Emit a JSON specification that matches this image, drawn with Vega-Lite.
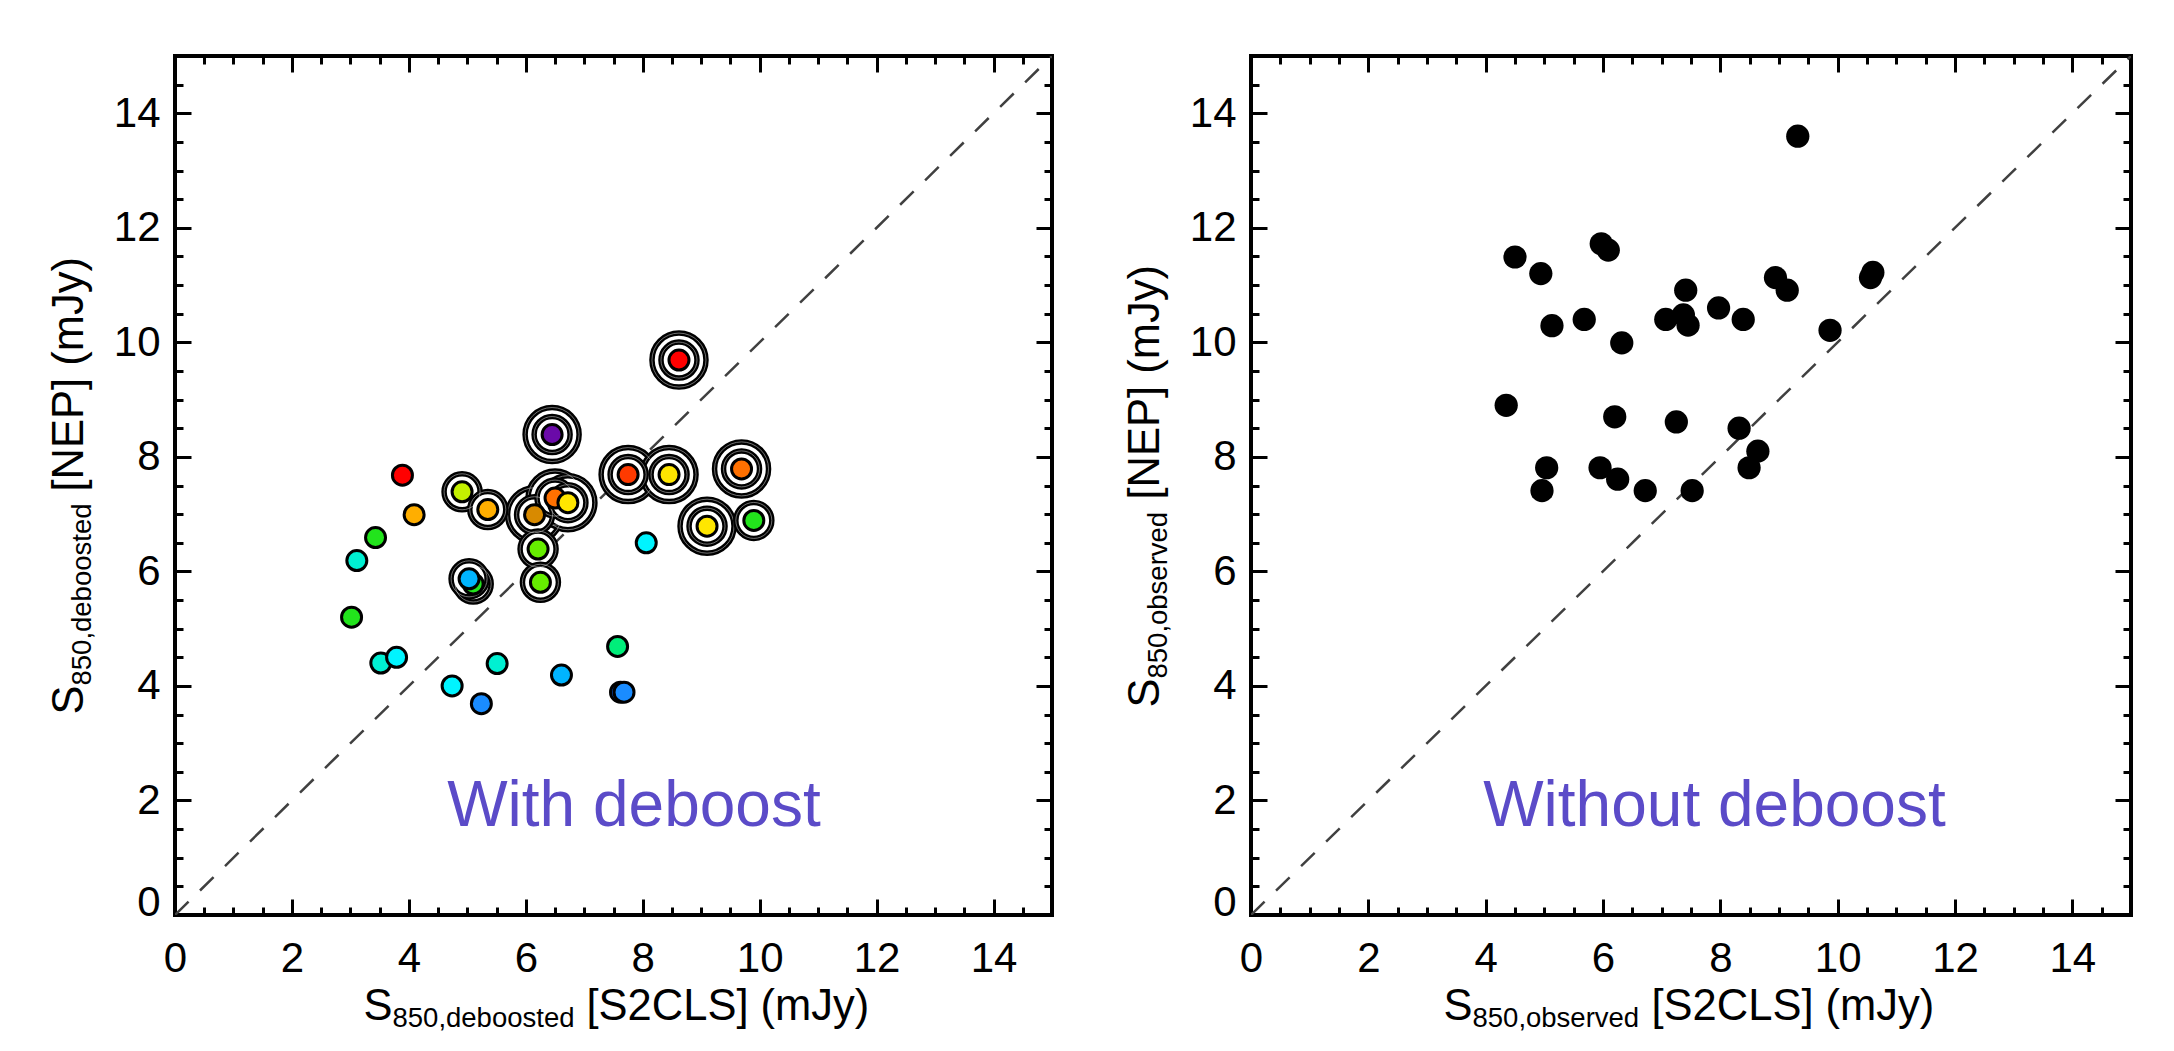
{
  "$schema": "https://vega.github.io/schema/vega-lite/v6.json",
  "background": "white",
  "padding": {"left": 45, "top": 52, "right": 10, "bottom": 5},
  "bounds": "flush",
  "spacing": 199,
  "config": {
    "view": {"stroke": "black", "strokeWidth": 4},
    "font": "Liberation Sans",
    "axis": {"grid": false, "domain": false, "tickColor": "black", "tickWidth": 3, "labelFont": "Liberation Sans", "labelFontSize": 42, "labelColor": "black", "titleFont": "Liberation Sans", "titleColor": "black", "titleFontWeight": "normal", "titleFontSize": 43.5}
  },
  "datasets": {
    "diag": [{"x": 0, "y": 0}, {"x": 15, "y": 15}],
    "lab1": [{"x": 7.85, "y": 1.55, "label": "With deboost"}],
    "lab2": [{"x": 7.9, "y": 1.55, "label": "Without deboost"}],
    "left": [
      {"x": 8.62, "y": 9.69, "c": "red", "r": 2},
      {"x": 6.45, "y": 8.39, "c": "purple", "r": 2},
      {"x": 3.89, "y": 7.68, "c": "red", "r": 0},
      {"x": 4.91, "y": 7.39, "c": "yellowgreen", "r": 1},
      {"x": 5.35, "y": 7.08, "c": "amber", "r": 1},
      {"x": 4.09, "y": 6.99, "c": "amber", "r": 0},
      {"x": 6.15, "y": 6.99, "c": "darkamber", "r": 2},
      {"x": 6.5, "y": 7.28, "c": "orange", "r": 2},
      {"x": 6.72, "y": 7.2, "c": "yellow", "r": 2},
      {"x": 7.75, "y": 7.69, "c": "redorange", "r": 2},
      {"x": 8.45, "y": 7.69, "c": "yellow", "r": 2},
      {"x": 9.69, "y": 7.79, "c": "orange", "r": 2},
      {"x": 9.1, "y": 6.79, "c": "yellow", "r": 2},
      {"x": 9.9, "y": 6.89, "c": "green", "r": 1},
      {"x": 8.06, "y": 6.5, "c": "cyan", "r": 0},
      {"x": 6.21, "y": 6.39, "c": "lime", "r": 1},
      {"x": 6.25, "y": 5.81, "c": "lime", "r": 1},
      {"x": 5.1, "y": 5.78, "c": "green", "r": 1},
      {"x": 5.03, "y": 5.87, "c": "skyblue", "r": 1},
      {"x": 3.43, "y": 6.59, "c": "green", "r": 0},
      {"x": 3.11, "y": 6.19, "c": "aqua", "r": 0},
      {"x": 3.02, "y": 5.2, "c": "green", "r": 0},
      {"x": 3.52, "y": 4.4, "c": "aqua", "r": 0},
      {"x": 3.79, "y": 4.5, "c": "cyan", "r": 0},
      {"x": 5.51, "y": 4.39, "c": "aqua", "r": 0},
      {"x": 4.74, "y": 4.0, "c": "cyan", "r": 0},
      {"x": 5.24, "y": 3.69, "c": "blue", "r": 0},
      {"x": 6.61, "y": 4.19, "c": "skyblue", "r": 0},
      {"x": 7.57, "y": 4.69, "c": "spring", "r": 0},
      {"x": 7.62, "y": 3.89, "c": "darkblue", "r": 0},
      {"x": 7.68, "y": 3.89, "c": "blue", "r": 0}
    ],
    "right": [
      {"x": 9.32, "y": 13.6}, {"x": 4.5, "y": 11.49}, {"x": 4.94, "y": 11.2}, {"x": 5.97, "y": 11.72},
      {"x": 6.09, "y": 11.61}, {"x": 5.13, "y": 10.29}, {"x": 5.68, "y": 10.4}, {"x": 6.32, "y": 9.99},
      {"x": 7.07, "y": 10.4}, {"x": 7.37, "y": 10.48}, {"x": 7.41, "y": 10.91}, {"x": 7.45, "y": 10.3},
      {"x": 7.97, "y": 10.6}, {"x": 8.39, "y": 10.4}, {"x": 8.94, "y": 11.13}, {"x": 9.14, "y": 10.91},
      {"x": 9.87, "y": 10.21}, {"x": 10.56, "y": 11.13}, {"x": 10.6, "y": 11.22}, {"x": 4.35, "y": 8.9},
      {"x": 6.2, "y": 8.7}, {"x": 7.25, "y": 8.61}, {"x": 8.32, "y": 8.5}, {"x": 8.64, "y": 8.1},
      {"x": 8.49, "y": 7.81}, {"x": 5.04, "y": 7.81}, {"x": 4.96, "y": 7.41}, {"x": 5.95, "y": 7.81},
      {"x": 6.25, "y": 7.61}, {"x": 6.72, "y": 7.41}, {"x": 7.52, "y": 7.41}
    ]
  },
  "hconcat": [
    {
      "width": 877,
      "height": 859,
      "resolve": {"scale": {"x": "shared", "y": "shared"}, "axis": {"x": "independent", "y": "independent"}},
      "layer": [
        {
          "data": {"name": "diag"},
          "mark": {"type": "line", "stroke": "#404040", "strokeWidth": 2.5, "strokeDash": [19, 16], "clip": true},
          "encoding": {
            "x": {"field": "x", "type": "quantitative", "scale": {"domain": [0, 15], "nice": false, "zero": false},
              "axis": {"orient": "bottom", "values": [0, 2, 4, 6, 8, 10, 12, 14], "tickSize": -16, "labelPadding": 39, "labelFlush": false, "title": "S", "titleX": 188, "titleY": 104, "titleAlign": "left", "titleBaseline": "alphabetic", "titleAngle": 0}},
            "y": {"field": "y", "type": "quantitative", "scale": {"domain": [0, 15], "nice": false, "zero": false},
              "axis": {"orient": "left", "values": [0, 2, 4, 6, 8, 10, 12, 14], "tickSize": -16, "labelPadding": 31, "labelFlush": true, "labelFlushOffset": 9, "title": "S", "titleX": -93, "titleY": 658, "titleAlign": "left", "titleBaseline": "alphabetic", "titleAngle": 270}}
          }
        },
        {
          "data": {"name": "left"},
          "transform": [{"filter": "datum.r == 2"}],
          "mark": {"type": "circle", "size": 2916, "fill": "white", "stroke": "black", "strokeWidth": 5.5, "opacity": 1},
          "encoding": {
            "x": {"field": "x", "type": "quantitative", "scale": {"domain": [0, 15], "nice": false, "zero": false},
              "axis": {"orient": "bottom", "values": [0.5, 1, 1.5, 2.5, 3, 3.5, 4.5, 5, 5.5, 6.5, 7, 7.5, 8.5, 9, 9.5, 10.5, 11, 11.5, 12.5, 13, 13.5, 14.5], "tickSize": -8, "labels": false, "title": "850,deboosted", "titleFontSize": 27.5, "titleX": 217, "titleY": 111, "titleAlign": "left", "titleBaseline": "alphabetic", "titleAngle": 0}},
            "y": {"field": "y", "type": "quantitative", "scale": {"domain": [0, 15], "nice": false, "zero": false},
              "axis": {"orient": "left", "values": [0.5, 1, 1.5, 2.5, 3, 3.5, 4.5, 5, 5.5, 6.5, 7, 7.5, 8.5, 9, 9.5, 10.5, 11, 11.5, 12.5, 13, 13.5, 14.5], "tickSize": -8, "labels": false, "title": "850,deboosted", "titleFontSize": 27.5, "titleX": -85, "titleY": 629, "titleAlign": "left", "titleBaseline": "alphabetic", "titleAngle": 270}}
          }
        },
        {
          "data": {"name": "left"},
          "transform": [{"filter": "datum.r == 2"}],
          "mark": {"type": "circle", "size": 2916, "filled": false, "stroke": "white", "strokeWidth": 0.8, "opacity": 0.55},
          "encoding": {
            "x": {"field": "x", "type": "quantitative", "scale": {"domain": [0, 15], "nice": false, "zero": false}, "axis": null},
            "y": {"field": "y", "type": "quantitative", "scale": {"domain": [0, 15], "nice": false, "zero": false}, "axis": null}
          }
        },
        {
          "data": {"name": "left"},
          "transform": [{"filter": "datum.r >= 1"}],
          "mark": {"type": "circle", "size": 1296, "fill": "white", "stroke": "black", "strokeWidth": 5.5, "opacity": 1},
          "encoding": {
            "x": {"field": "x", "type": "quantitative", "scale": {"domain": [0, 15], "nice": false, "zero": false},
              "axis": {"orient": "top", "values": [0, 2, 4, 6, 8, 10, 12, 14], "tickSize": -16, "labels": false, "title": null}},
            "y": {"field": "y", "type": "quantitative", "scale": {"domain": [0, 15], "nice": false, "zero": false},
              "axis": {"orient": "right", "values": [0, 2, 4, 6, 8, 10, 12, 14], "tickSize": -16, "labels": false, "title": null}}
          }
        },
        {
          "data": {"name": "left"},
          "transform": [{"filter": "datum.r >= 1"}],
          "mark": {"type": "circle", "size": 1296, "filled": false, "stroke": "white", "strokeWidth": 0.8, "opacity": 0.55},
          "encoding": {
            "x": {"field": "x", "type": "quantitative", "scale": {"domain": [0, 15], "nice": false, "zero": false}, "axis": null},
            "y": {"field": "y", "type": "quantitative", "scale": {"domain": [0, 15], "nice": false, "zero": false}, "axis": null}
          }
        },
        {
          "data": {"name": "left"},
          "mark": {"type": "circle", "size": 400, "stroke": "black", "strokeWidth": 3, "opacity": 1},
          "encoding": {
            "x": {"field": "x", "type": "quantitative", "scale": {"domain": [0, 15], "nice": false, "zero": false},
              "axis": {"orient": "top", "values": [0.5, 1, 1.5, 2.5, 3, 3.5, 4.5, 5, 5.5, 6.5, 7, 7.5, 8.5, 9, 9.5, 10.5, 11, 11.5, 12.5, 13, 13.5, 14.5], "tickSize": -8, "labels": false, "title": null}},
            "y": {"field": "y", "type": "quantitative", "scale": {"domain": [0, 15], "nice": false, "zero": false},
              "axis": {"orient": "right", "values": [0.5, 1, 1.5, 2.5, 3, 3.5, 4.5, 5, 5.5, 6.5, 7, 7.5, 8.5, 9, 9.5, 10.5, 11, 11.5, 12.5, 13, 13.5, 14.5], "tickSize": -8, "labels": false, "title": null}},
            "color": {"field": "c", "type": "nominal", "legend": null,
              "scale": {"domain": ["red", "redorange", "orange", "darkamber", "amber", "yellow", "yellowgreen", "lime", "green", "spring", "aqua", "cyan", "skyblue", "blue", "darkblue", "purple"],
                        "range": ["#ff0000", "#ff3a00", "#ff7000", "#d88a00", "#ffae00", "#ffe600", "#c4f000", "#66ee00", "#22e41c", "#00ee7a", "#00f0d2", "#00f4ff", "#00b4ff", "#1a8cff", "#1060e0", "#6a0aa8"]}}
          }
        },
        {
          "data": {"name": "lab1"},
          "mark": {"type": "text", "fontSize": 64, "color": "#5b4bc8", "align": "center", "baseline": "alphabetic", "font": "Liberation Sans"},
          "encoding": {
            "x": {"field": "x", "type": "quantitative", "scale": {"domain": [0, 15], "nice": false, "zero": false},
              "axis": {"orient": "bottom", "ticks": false, "labels": false, "title": "[S2CLS] (mJy)", "titleX": 411, "titleY": 104, "titleAlign": "left", "titleBaseline": "alphabetic", "titleAngle": 0}},
            "y": {"field": "y", "type": "quantitative", "scale": {"domain": [0, 15], "nice": false, "zero": false},
              "axis": {"orient": "left", "ticks": false, "labels": false, "title": "[NEP] (mJy)", "titleX": -93, "titleY": 435, "titleAlign": "left", "titleBaseline": "alphabetic", "titleAngle": 270}},
            "text": {"field": "label"}
          }
        }
      ]
    },
    {
      "width": 880,
      "height": 859,
      "resolve": {"scale": {"x": "shared", "y": "shared"}, "axis": {"x": "independent", "y": "independent"}},
      "layer": [
        {
          "data": {"name": "diag"},
          "mark": {"type": "line", "stroke": "#404040", "strokeWidth": 2.5, "strokeDash": [19, 16], "clip": true},
          "encoding": {
            "x": {"field": "x", "type": "quantitative", "scale": {"domain": [0, 15], "nice": false, "zero": false},
              "axis": {"orient": "bottom", "values": [0, 2, 4, 6, 8, 10, 12, 14], "tickSize": -16, "labelPadding": 39, "labelFlush": false, "title": "S", "titleX": 192, "titleY": 104, "titleAlign": "left", "titleBaseline": "alphabetic", "titleAngle": 0}},
            "y": {"field": "y", "type": "quantitative", "scale": {"domain": [0, 15], "nice": false, "zero": false},
              "axis": {"orient": "left", "values": [0, 2, 4, 6, 8, 10, 12, 14], "tickSize": -16, "labelPadding": 31, "labelFlush": true, "labelFlushOffset": 9, "title": "S", "titleX": -93, "titleY": 651, "titleAlign": "left", "titleBaseline": "alphabetic", "titleAngle": 270}}
          }
        },
        {
          "data": {"name": "right"},
          "mark": {"type": "circle", "size": 540, "fill": "black", "opacity": 1},
          "encoding": {
            "x": {"field": "x", "type": "quantitative", "scale": {"domain": [0, 15], "nice": false, "zero": false},
              "axis": {"orient": "bottom", "values": [0.5, 1, 1.5, 2.5, 3, 3.5, 4.5, 5, 5.5, 6.5, 7, 7.5, 8.5, 9, 9.5, 10.5, 11, 11.5, 12.5, 13, 13.5, 14.5], "tickSize": -8, "labels": false, "title": "850,observed", "titleFontSize": 27.5, "titleX": 221, "titleY": 111, "titleAlign": "left", "titleBaseline": "alphabetic", "titleAngle": 0}},
            "y": {"field": "y", "type": "quantitative", "scale": {"domain": [0, 15], "nice": false, "zero": false},
              "axis": {"orient": "left", "values": [0.5, 1, 1.5, 2.5, 3, 3.5, 4.5, 5, 5.5, 6.5, 7, 7.5, 8.5, 9, 9.5, 10.5, 11, 11.5, 12.5, 13, 13.5, 14.5], "tickSize": -8, "labels": false, "title": "850,observed", "titleFontSize": 27.5, "titleX": -85, "titleY": 622, "titleAlign": "left", "titleBaseline": "alphabetic", "titleAngle": 270}}
          }
        },
        {
          "data": {"name": "lab2"},
          "mark": {"type": "text", "fontSize": 64, "color": "#5b4bc8", "align": "center", "baseline": "alphabetic", "font": "Liberation Sans"},
          "encoding": {
            "x": {"field": "x", "type": "quantitative", "scale": {"domain": [0, 15], "nice": false, "zero": false},
              "axis": {"orient": "bottom", "ticks": false, "labels": false, "title": "[S2CLS] (mJy)", "titleX": 400, "titleY": 104, "titleAlign": "left", "titleBaseline": "alphabetic", "titleAngle": 0}},
            "y": {"field": "y", "type": "quantitative", "scale": {"domain": [0, 15], "nice": false, "zero": false},
              "axis": {"orient": "left", "ticks": false, "labels": false, "title": "[NEP] (mJy)", "titleX": -93, "titleY": 443, "titleAlign": "left", "titleBaseline": "alphabetic", "titleAngle": 270}},
            "text": {"field": "label"}
          }
        },
        {
          "data": {"name": "diag"},
          "mark": {"type": "line", "opacity": 0},
          "encoding": {
            "x": {"field": "x", "type": "quantitative", "scale": {"domain": [0, 15], "nice": false, "zero": false},
              "axis": {"orient": "top", "values": [0, 2, 4, 6, 8, 10, 12, 14], "tickSize": -16, "labels": false, "title": null}},
            "y": {"field": "y", "type": "quantitative", "scale": {"domain": [0, 15], "nice": false, "zero": false},
              "axis": {"orient": "right", "values": [0, 2, 4, 6, 8, 10, 12, 14], "tickSize": -16, "labels": false, "title": null}}
          }
        },
        {
          "data": {"name": "diag"},
          "mark": {"type": "line", "opacity": 0},
          "encoding": {
            "x": {"field": "x", "type": "quantitative", "scale": {"domain": [0, 15], "nice": false, "zero": false},
              "axis": {"orient": "top", "values": [0.5, 1, 1.5, 2.5, 3, 3.5, 4.5, 5, 5.5, 6.5, 7, 7.5, 8.5, 9, 9.5, 10.5, 11, 11.5, 12.5, 13, 13.5, 14.5], "tickSize": -8, "labels": false, "title": null}},
            "y": {"field": "y", "type": "quantitative", "scale": {"domain": [0, 15], "nice": false, "zero": false},
              "axis": {"orient": "right", "values": [0.5, 1, 1.5, 2.5, 3, 3.5, 4.5, 5, 5.5, 6.5, 7, 7.5, 8.5, 9, 9.5, 10.5, 11, 11.5, 12.5, 13, 13.5, 14.5], "tickSize": -8, "labels": false, "title": null}}
          }
        }
      ]
    }
  ]
}
